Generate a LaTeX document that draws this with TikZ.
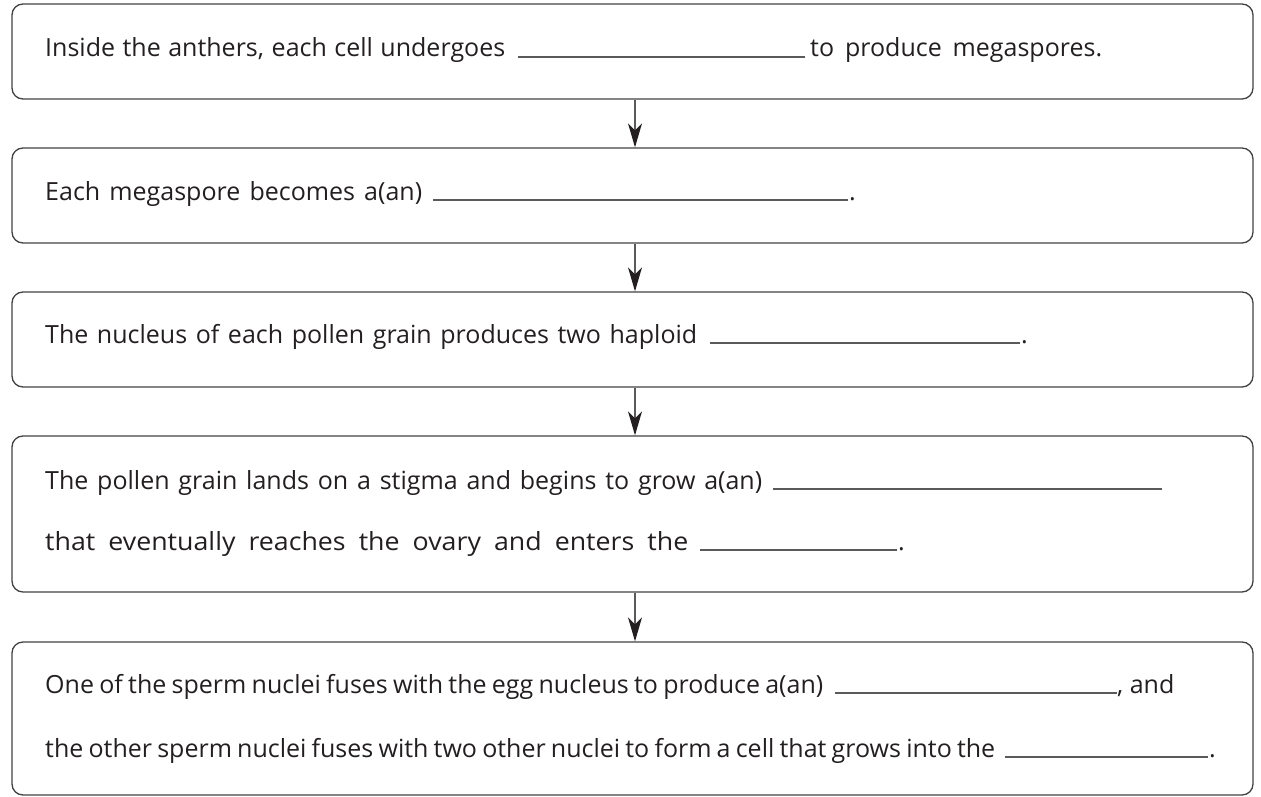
\documentclass[tikz,border=0pt]{standalone}
\usepackage{fontspec}
\setmainfont{Open Sans}
\usetikzlibrary{arrows.meta}
\definecolor{ink}{HTML}{231F20}
\definecolor{rule}{HTML}{5A5A5A}
\newcommand{\fitline}[2]{\spaceskip=0.26em plus 1em minus 0.12em\relax\makebox[#1pt][s]{#2}}
\begin{document}
\begin{tikzpicture}[x=1pt,y=-1pt,
  box/.style={draw=ink!85, line width=1.3pt, rounded corners=11pt, inner sep=0pt, minimum width=1241pt},
  txt/.style={anchor=base west, inner sep=0pt, text=ink, font=\fontsize{25}{30}\selectfont},
  blank/.style={draw=rule, line width=1.4pt},
  arr/.style={draw=rule, line width=1.4pt, -{Stealth[length=24pt,width=14pt,inset=7pt,color=ink]}}]
\useasboundingbox (0,0) rectangle (1261,797);
% boxes
\node[box, minimum height=95pt]  (b1) at (632.5,51.5) {};
\node[box, minimum height=95pt]  (b2) at (632.5,195.5) {};
\node[box, minimum height=95pt]  (b3) at (632.5,339.5) {};
\node[box, minimum height=156pt] (b4) at (632.5,514) {};
\node[box, minimum height=153pt] (b5) at (632.5,718.5) {};
% arrows
\draw[arr] ([xshift=2.5pt]b1.south) -- ([xshift=2.5pt]b2.north);
\draw[arr] ([xshift=2.5pt]b2.south) -- ([xshift=2.5pt]b3.north);
\draw[arr] ([xshift=2.5pt]b3.south) -- ([xshift=2.5pt]b4.north);
\draw[arr] ([xshift=2.5pt]b4.south) -- ([xshift=2.5pt]b5.north);
% box 1
\node[txt] (t1a) at (45,57) {\fitline{460}{Inside the anthers, each cell undergoes}};
\draw[blank] (518,57) -- (805,57);
\node[txt] (t1b) at (810,57) {\fitline{292}{to produce megaspores.}};
% box 2
\node[txt] (t2a) at (45,200) {\fitline{377}{Each megaspore becomes a(an)}};
\draw[blank] (433,200) -- (848,200);
\node[txt] (t2b) at (849,200) {.};
% box 3
\node[txt] (t3a) at (45,343) {\fitline{652}{The nucleus of each pollen grain produces two haploid}};
\draw[blank] (710,343) -- (1020,343);
\node[txt] (t3b) at (1021,343) {.};
% box 4
\node[txt] (t4a) at (45,489) {\fitline{717}{The pollen grain lands on a stigma and begins to grow a(an)}};
\draw[blank] (773,489) -- (1162,489);
\node[txt] (t4b) at (45,550) {\scalebox{1.07}[1]{\fitline{601}{that eventually reaches the ovary and enters the}}};
\draw[blank] (700,550) -- (897,550);
\node[txt] (t4c) at (898,550) {.};
% box 5
\node[txt] (t5a) at (45,693) {\fitline{778}{One of the sperm nuclei fuses with the egg nucleus to produce a(an)}};
\draw[blank] (835,693) -- (1117,693);
\node[txt] (t5b) at (1117,693) {, and};
\node[txt] (t5c) at (45,757) {\fitline{950}{the other sperm nuclei fuses with two other nuclei to form a cell that grows into the}};
\draw[blank] (1005,757) -- (1208,757);
\node[txt] (t5d) at (1209,757) {.};
\end{tikzpicture}
\end{document}
